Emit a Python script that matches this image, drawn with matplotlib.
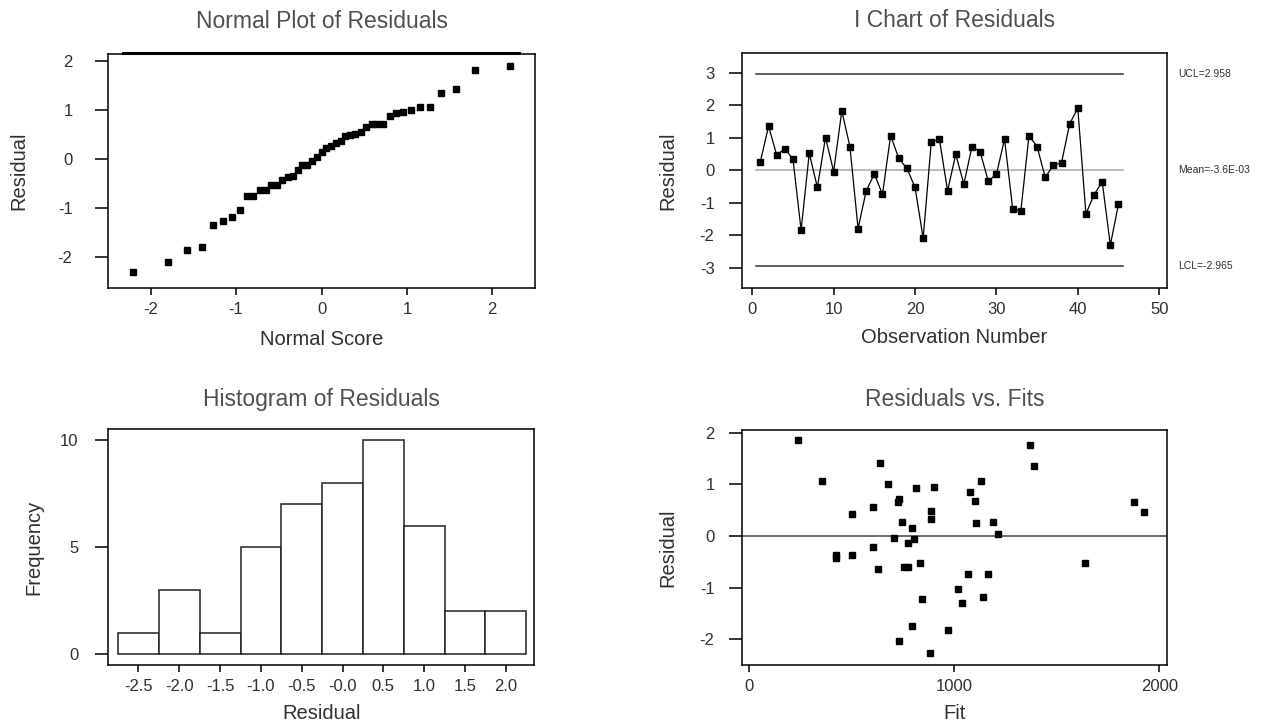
import statistics
import numpy as np
import matplotlib
matplotlib.use("Agg")
import matplotlib.pyplot as plt

plt.rcParams['font.family'] = ['Liberation Sans', 'DejaVu Sans']
plt.rcParams['axes.unicode_minus'] = False

# residuals in observation order (I chart)
residuals = [0.26, 1.35, 0.46, 0.66, 0.33, -1.85, 0.51, -0.53, 1.00, -0.05,
             1.82, 0.72, -1.80, -0.64, -0.12, -0.75, 1.06, 0.36, 0.05, -0.53,
             -2.10, 0.87, 0.94, -0.64, 0.48, -0.43, 0.72, 0.56, -0.34, -0.13,
             0.95, -1.19, -1.27, 1.06, 0.72, -0.23, 0.15, 0.22, 1.42, 1.90,
             -1.35, -0.76, -0.36, -2.31, -1.05]
ucl = 2.958
lcl = -2.965
center = -3.6e-03

# residuals vs fits
fits = [236, 356, 636, 677, 812, 900, 732, 724, 603, 501, 884, 884, 746, 795,
        707, 803, 773, 603, 421, 421, 501, 834, 628, 756, 773, 842, 795, 732,
        883, 971, 1020, 1036, 1067, 1163, 1138, 1075, 1099, 1130, 1108, 1187,
        1212, 1371, 1387, 1875, 1924, 1636]
fit_resid = [1.86, 1.06, 1.42, 1.00, 0.92, 0.94, 0.72, 0.65, 0.56, 0.43, 0.49,
             0.33, 0.26, 0.15, -0.05, -0.06, -0.13, -0.21, -0.37, -0.43, -0.37,
             -0.52, -0.64, -0.61, -0.61, -1.22, -1.75, -2.04, -2.26, -1.82,
             -1.03, -1.30, -0.74, -0.74, -1.19, 0.84, 0.68, 1.06, 0.24, 0.27,
             0.03, 1.76, 1.35, 0.65, 0.47, -0.53]

# histogram
bin_mids = [-2.5, -2.0, -1.5, -1.0, -0.5, 0.0, 0.5, 1.0, 1.5, 2.0]
bin_labels = ['-2.5', '-2.0', '-1.5', '-1.0', '-0.5', '-0.0', '0.5', '1.0', '1.5', '2.0']
counts = [1, 3, 1, 5, 7, 8, 10, 6, 2, 2]

W, H = 1273, 727
fig = plt.figure(figsize=(W / 100, H / 100), dpi=100)


def make_axes(x0, y0, x1, y1):
    return fig.add_axes([x0 / W, 1 - y1 / H, (x1 - x0) / W, (y1 - y0) / H])


title_kw = dict(fontsize=16.5, color='#505050')
label_kw = dict(fontsize=14.5, color='#303030')


def style(ax, ypad=10):
    for s in ax.spines.values():
        s.set_linewidth(1.1)
    ax.tick_params(axis='y', direction='out', length=9.5, width=1.1,
                   labelsize=12, pad=ypad, labelcolor='#303030')
    ax.tick_params(axis='x', direction='out', length=5, width=1.1,
                   labelsize=12, pad=5, labelcolor='#303030')


# Normal plot
ax1 = make_axes(108, 54, 535, 288)
n = len(residuals)
nd = statistics.NormalDist()
scores = [nd.inv_cdf((i + 1 - 0.375) / (n + 0.25)) for i in range(n)]
ax1.plot(scores, sorted(residuals), 's', color='black', markersize=5)
ax1.set_xlim(-2.5, 2.5)
ax1.set_ylim(-2.63, 2.14)
ax1.set_xticks([-2, -1, 0, 1, 2])
ax1.set_yticks([-2, -1, 0, 1, 2])
style(ax1, ypad=16)
ax1.plot([0.035, 0.963], [1.005, 1.005], transform=ax1.transAxes,
         color='black', lw=2.2, clip_on=False)
ax1.set_title('Normal Plot of Residuals', pad=19, **title_kw)
ax1.set_xlabel('Normal Score', **label_kw)
ax1.set_ylabel('Residual', **label_kw)
ax1.xaxis.set_label_coords(0.5, -0.18)
ax1.yaxis.set_label_coords(-0.187, 0.5)

# I chart
ax2 = make_axes(741.7, 53, 1167.3, 288)
obs = np.arange(1, n + 1)
ax2.plot([0.5, n + 0.5], [ucl, ucl], color='#333333', lw=1.1)
ax2.plot([0.5, n + 0.5], [lcl, lcl], color='#333333', lw=1.1)
ax2.plot([0.5, n + 0.5], [center, center], color='#aaaaaa', lw=1.1)
ax2.plot(obs, residuals, '-s', color='black', lw=0.9, markersize=5)
ax2.set_xlim(-1.3, 51)
ax2.set_ylim(-3.63, 3.6)
ax2.set_xticks([0, 10, 20, 30, 40, 50])
ax2.set_yticks([-3, -2, -1, 0, 1, 2, 3])
style(ax2)
lim_font = dict(fontsize=7.5, color='#303030', va='center', ha='left',
                family=['Liberation Sans Narrow', 'Liberation Sans'])
ax2.text(1.025, ucl, 'UCL=%.3f' % ucl, transform=ax2.get_yaxis_transform(), **lim_font)
ax2.text(1.025, center, 'Mean=-3.6E-03', transform=ax2.get_yaxis_transform(), **lim_font)
ax2.text(1.025, lcl, 'LCL=%.3f' % lcl, transform=ax2.get_yaxis_transform(), **lim_font)
ax2.set_title('I Chart of Residuals', pad=19, **title_kw)
ax2.set_xlabel('Observation Number', **label_kw)
ax2.set_ylabel('Residual', **label_kw)
ax2.xaxis.set_label_coords(0.5, -0.17)
ax2.yaxis.set_label_coords(-0.152, 0.5)

# Histogram
ax3 = make_axes(108.3, 429.3, 534.3, 665)
ax3.bar(bin_mids, counts, width=0.5, color='white', edgecolor='#222222', linewidth=1.1)
ax3.set_xlim(-2.87, 2.35)
ax3.set_ylim(-0.51, 10.5)
ax3.set_xticks(bin_mids)
ax3.set_xticklabels(bin_labels)
ax3.set_yticks([0, 5, 10])
style(ax3, ypad=12)
ax3.set_title('Histogram of Residuals', pad=17, **title_kw)
ax3.set_xlabel('Residual', **label_kw)
ax3.set_ylabel('Frequency', **label_kw)
ax3.xaxis.set_label_coords(0.5, -0.166)
ax3.yaxis.set_label_coords(-0.152, 0.5)

# Residuals vs fits
ax4 = make_axes(741.7, 430, 1167.3, 665)
ax4.axhline(0, color='#444444', lw=1.1)
ax4.plot(fits, fit_resid, 's', color='black', markersize=5)
ax4.set_xlim(-37, 2039)
ax4.set_ylim(-2.5, 2.05)
ax4.set_xticks([0, 1000, 2000])
ax4.set_yticks([-2, -1, 0, 1, 2])
style(ax4)
ax4.set_title('Residuals vs. Fits', pad=17, **title_kw)
ax4.set_xlabel('Fit', **label_kw)
ax4.set_ylabel('Residual', **label_kw)
ax4.xaxis.set_label_coords(0.5, -0.166)
ax4.yaxis.set_label_coords(-0.152, 0.5)

fig.savefig('out.png', dpi=100)
